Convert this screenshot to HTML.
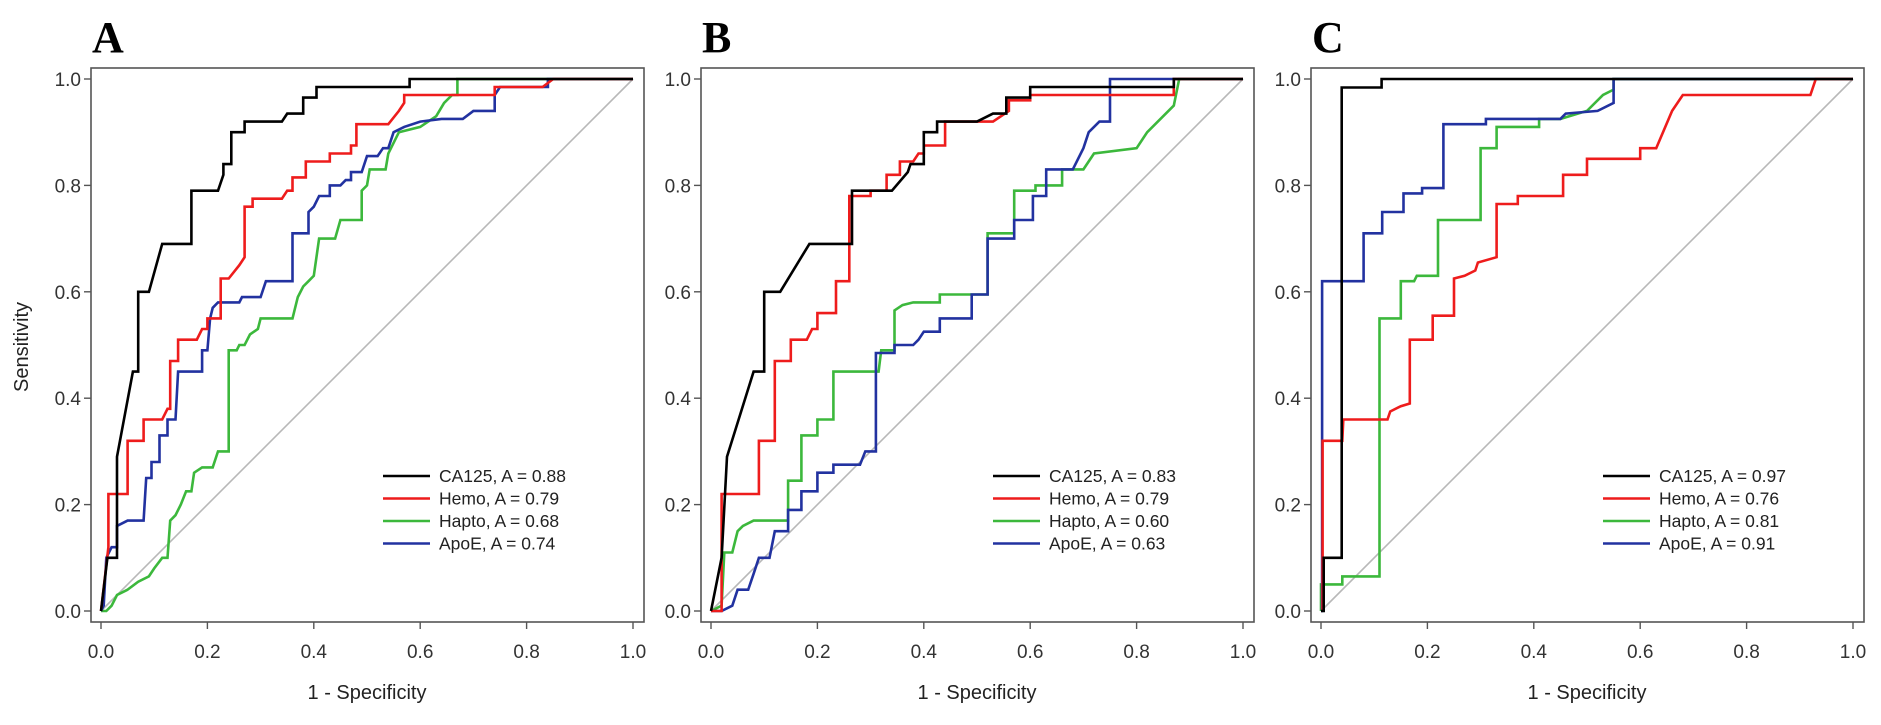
<!DOCTYPE html>
<html><head><meta charset="utf-8">
<style>
html,body{margin:0;padding:0;background:#fff;}
svg{display:block;font-family:"Liberation Sans",Arial,sans-serif;}
</style></head>
<body>
<svg id="chart" width="1881" height="725" viewBox="0 0 1881 725" xmlns="http://www.w3.org/2000/svg"></svg>
<script>
// ---- data ----
const panelLetters = ["A","B","C"];
const tickValues = [0,0.2,0.4,0.6,0.8,1.0];
const tickLabels = ["0.0","0.2","0.4","0.6","0.8","1.0"];
const seriesNames = ["CA125","Hemo","Hapto","ApoE"];
const seriesColors = ["#000000","#ee1c1c","#3cb83c","#2232a0"];
const aucA = ["0.88","0.79","0.68","0.74"];
const aucB = ["0.83","0.79","0.60","0.63"];
const aucC = ["0.97","0.76","0.81","0.91"];

const A_ca125 = [[0,0],[0.012,0.1],[0.03,0.1],[0.03,0.29],[0.06,0.45],[0.07,0.45],[0.07,0.6],[0.09,0.6],[0.115,0.69],[0.17,0.69],[0.17,0.79],[0.22,0.79],[0.23,0.82],[0.23,0.84],[0.245,0.84],[0.245,0.9],[0.27,0.9],[0.27,0.92],[0.34,0.92],[0.35,0.935],[0.38,0.935],[0.38,0.965],[0.405,0.965],[0.405,0.985],[0.58,0.985],[0.58,1],[1,1]];
const A_hemo = [[0,0],[0.014,0.12],[0.014,0.22],[0.05,0.22],[0.05,0.32],[0.08,0.32],[0.08,0.36],[0.115,0.36],[0.125,0.38],[0.13,0.38],[0.13,0.47],[0.145,0.47],[0.145,0.51],[0.18,0.51],[0.19,0.53],[0.2,0.53],[0.2,0.55],[0.225,0.55],[0.225,0.625],[0.24,0.625],[0.26,0.65],[0.27,0.665],[0.27,0.76],[0.285,0.76],[0.285,0.775],[0.34,0.775],[0.35,0.79],[0.36,0.79],[0.36,0.815],[0.385,0.815],[0.385,0.845],[0.43,0.845],[0.43,0.86],[0.47,0.86],[0.47,0.875],[0.48,0.875],[0.48,0.915],[0.54,0.915],[0.56,0.94],[0.57,0.955],[0.57,0.97],[0.74,0.97],[0.74,0.985],[0.83,0.985],[0.85,1],[1,1]];
const A_hapto = [[0,0],[0.01,0],[0.02,0.01],[0.03,0.03],[0.05,0.04],[0.07,0.055],[0.09,0.065],[0.1,0.08],[0.115,0.1],[0.125,0.1],[0.13,0.17],[0.14,0.18],[0.15,0.2],[0.16,0.225],[0.17,0.225],[0.175,0.26],[0.19,0.27],[0.21,0.27],[0.22,0.3],[0.24,0.3],[0.24,0.49],[0.255,0.49],[0.26,0.5],[0.27,0.5],[0.28,0.52],[0.295,0.53],[0.3,0.55],[0.36,0.55],[0.37,0.59],[0.38,0.61],[0.39,0.62],[0.4,0.63],[0.41,0.7],[0.44,0.7],[0.45,0.735],[0.49,0.735],[0.49,0.79],[0.5,0.8],[0.505,0.83],[0.535,0.83],[0.54,0.86],[0.56,0.9],[0.6,0.91],[0.63,0.93],[0.645,0.955],[0.66,0.97],[0.67,0.97],[0.67,1],[1,1]];
const A_apoe = [[0,0],[0.005,0.01],[0.01,0.1],[0.02,0.12],[0.03,0.12],[0.03,0.16],[0.05,0.17],[0.08,0.17],[0.085,0.25],[0.095,0.25],[0.095,0.28],[0.11,0.28],[0.11,0.33],[0.125,0.33],[0.125,0.36],[0.14,0.36],[0.145,0.45],[0.19,0.45],[0.19,0.49],[0.2,0.49],[0.205,0.55],[0.21,0.57],[0.22,0.58],[0.26,0.58],[0.265,0.59],[0.3,0.59],[0.31,0.62],[0.36,0.62],[0.36,0.71],[0.39,0.71],[0.39,0.75],[0.4,0.76],[0.41,0.78],[0.43,0.78],[0.43,0.8],[0.45,0.8],[0.46,0.81],[0.47,0.81],[0.47,0.825],[0.49,0.825],[0.5,0.855],[0.52,0.855],[0.53,0.87],[0.54,0.87],[0.55,0.9],[0.57,0.91],[0.6,0.92],[0.64,0.925],[0.68,0.925],[0.7,0.94],[0.74,0.94],[0.74,0.97],[0.75,0.985],[0.84,0.985],[0.84,1],[1,1]];

const B_ca125 = [[0,0],[0.02,0.1],[0.03,0.29],[0.08,0.45],[0.1,0.45],[0.1,0.6],[0.13,0.6],[0.185,0.69],[0.265,0.69],[0.265,0.79],[0.34,0.79],[0.37,0.825],[0.375,0.84],[0.4,0.84],[0.4,0.9],[0.425,0.9],[0.425,0.92],[0.5,0.92],[0.53,0.935],[0.555,0.935],[0.555,0.965],[0.6,0.965],[0.6,0.985],[0.87,0.985],[0.87,1],[1,1]];
const B_hemo = [[0,0],[0.02,0],[0.02,0.22],[0.09,0.22],[0.09,0.32],[0.12,0.32],[0.12,0.47],[0.15,0.47],[0.15,0.51],[0.18,0.51],[0.19,0.53],[0.2,0.53],[0.2,0.56],[0.235,0.56],[0.235,0.62],[0.26,0.62],[0.26,0.78],[0.3,0.78],[0.3,0.79],[0.33,0.79],[0.33,0.82],[0.355,0.82],[0.355,0.845],[0.38,0.845],[0.39,0.86],[0.4,0.86],[0.4,0.875],[0.44,0.875],[0.44,0.92],[0.53,0.92],[0.56,0.94],[0.56,0.96],[0.6,0.96],[0.6,0.97],[0.87,0.97],[0.87,1],[1,1]];
const B_hapto = [[0,0],[0.02,0.01],[0.025,0.11],[0.04,0.11],[0.05,0.15],[0.06,0.16],[0.08,0.17],[0.145,0.17],[0.145,0.245],[0.17,0.245],[0.17,0.33],[0.2,0.33],[0.2,0.36],[0.23,0.36],[0.23,0.45],[0.315,0.45],[0.32,0.49],[0.345,0.49],[0.345,0.565],[0.36,0.575],[0.38,0.58],[0.43,0.58],[0.43,0.595],[0.52,0.595],[0.52,0.71],[0.57,0.71],[0.57,0.79],[0.61,0.79],[0.61,0.8],[0.66,0.8],[0.66,0.83],[0.7,0.83],[0.72,0.86],[0.8,0.87],[0.82,0.9],[0.85,0.93],[0.87,0.95],[0.88,1],[1,1]];
const B_apoe = [[0,0],[0.02,0],[0.04,0.01],[0.05,0.04],[0.07,0.04],[0.08,0.07],[0.09,0.1],[0.11,0.1],[0.12,0.15],[0.145,0.15],[0.145,0.19],[0.17,0.19],[0.17,0.225],[0.2,0.225],[0.2,0.26],[0.23,0.26],[0.23,0.275],[0.28,0.275],[0.29,0.3],[0.31,0.3],[0.31,0.485],[0.345,0.485],[0.345,0.5],[0.38,0.5],[0.39,0.51],[0.4,0.525],[0.43,0.525],[0.43,0.55],[0.49,0.55],[0.49,0.595],[0.52,0.595],[0.52,0.7],[0.57,0.7],[0.57,0.735],[0.605,0.735],[0.605,0.78],[0.63,0.78],[0.63,0.83],[0.68,0.83],[0.7,0.87],[0.71,0.9],[0.73,0.92],[0.75,0.92],[0.75,1],[1,1]];

const C_ca125 = [[0,0],[0.005,0],[0.005,0.1],[0.039,0.1],[0.039,0.984],[0.114,0.984],[0.114,1],[1,1]];
const C_hemo = [[0.003,0],[0.003,0.32],[0.04,0.32],[0.042,0.36],[0.125,0.36],[0.13,0.375],[0.15,0.385],[0.167,0.39],[0.167,0.51],[0.21,0.51],[0.21,0.555],[0.25,0.555],[0.25,0.625],[0.27,0.63],[0.29,0.64],[0.295,0.655],[0.33,0.665],[0.33,0.765],[0.37,0.765],[0.37,0.78],[0.455,0.78],[0.455,0.82],[0.5,0.82],[0.5,0.85],[0.6,0.85],[0.6,0.87],[0.63,0.87],[0.66,0.94],[0.68,0.97],[0.92,0.97],[0.93,1],[1,1]];
const C_hapto = [[0,0],[0,0.05],[0.04,0.05],[0.04,0.065],[0.11,0.065],[0.11,0.55],[0.15,0.55],[0.15,0.62],[0.175,0.62],[0.18,0.63],[0.22,0.63],[0.22,0.735],[0.3,0.735],[0.3,0.87],[0.33,0.87],[0.33,0.91],[0.41,0.91],[0.41,0.925],[0.45,0.925],[0.5,0.94],[0.53,0.97],[0.55,0.98],[0.55,1],[1,1]];
const C_apoe = [[0,0],[0.002,0],[0.002,0.62],[0.08,0.62],[0.08,0.71],[0.115,0.71],[0.115,0.75],[0.155,0.75],[0.155,0.785],[0.19,0.785],[0.19,0.795],[0.23,0.795],[0.23,0.915],[0.31,0.915],[0.31,0.925],[0.45,0.925],[0.46,0.935],[0.52,0.94],[0.55,0.955],[0.55,1],[1,1]];

const panelsSeries = [[A_ca125,A_hemo,A_hapto,A_apoe],[B_ca125,B_hemo,B_hapto,B_apoe],[C_ca125,C_hemo,C_hapto,C_apoe]];
const panelsAuc = [aucA,aucB,aucC];

// ---- drawing ----
const svg = document.getElementById('chart');
const NS = "http://www.w3.org/2000/svg";
function mk(tag, attrs, parent){const e=document.createElementNS(NS,tag);for(const k in attrs)e.setAttribute(k,attrs[k]);(parent||svg).appendChild(e);return e;}
const X0s=[101,711,1321], SPAN=532, Y0=611;
const names=["a","b","c"];
panelLetters.forEach((L,p)=>{
  const x0=X0s[p];
  const sx=v=>x0+v*SPAN, sy=v=>Y0-v*SPAN;
  const g=mk('g',{});
  
  
  const lt=mk('text',{x:x0-9,y:52,'font-family':'"Liberation Serif",serif','font-weight':'bold','font-size':'44',fill:'#000'},g);
  lt.textContent=L;
  
  
  const box=mk('rect',{x:x0-10,y:Y0-SPAN-11,width:SPAN+21,height:SPAN+22,fill:'none',stroke:'#555','stroke-width':1.6},g);
  
  
  tickValues.forEach((t,i)=>{
    mk('line',{x1:sx(t),x2:sx(t),y1:Y0+11,y2:Y0+18,stroke:'#555','stroke-width':1.4},g);
    const tx=mk('text',{x:sx(t),y:658,'text-anchor':'middle','font-size':'19',fill:'#333'},g);
    tx.textContent=tickLabels[i];
    
    
    mk('line',{x1:x0-10,x2:x0-17,y1:sy(t),y2:sy(t),stroke:'#555','stroke-width':1.4},g);
    const ty=mk('text',{x:x0-20,y:sy(t)+7,'text-anchor':'end','font-size':'19',fill:'#333'},g);
    ty.textContent=tickLabels[i];
    
    
  });
  const xt=mk('text',{x:x0+266,y:699,'text-anchor':'middle','font-size':'20',fill:'#222'},g);
  xt.textContent='1 - Specificity';
  
  
  if(p===0){
    const yt=mk('text',{x:0,y:0,transform:'translate(28,347) rotate(-90)','text-anchor':'middle','font-size':'20',fill:'#222'},g);
    yt.textContent='Sensitivity';
    
    
  }
  const diag=mk('line',{x1:sx(0),y1:sy(0),x2:sx(1),y2:sy(1),stroke:'#b8b8b8','stroke-width':1.6},g);
  
  
  const order=[2,3,1,0];
  order.forEach(s=>{
    const pts=panelsSeries[p][s].map(d=>sx(d[0]).toFixed(1)+','+sy(d[1]).toFixed(1)).join(' ');
    const pl=mk('polyline',{points:pts,fill:'none',stroke:seriesColors[s],'stroke-width':2.6,'stroke-linejoin':'miter'},g);
    
    
  });
  seriesNames.forEach((n,s)=>{
    const y=476+s*22.5;
    const le=mk('g',{},g);
    
    
    mk('line',{x1:x0+282,x2:x0+329,y1:y,y2:y,stroke:seriesColors[s],'stroke-width':2.6},le);
    const t=mk('text',{x:x0+338,y:y+6,'font-size':'17.5',fill:'#222'},le);
    t.textContent=n+', A = '+panelsAuc[p][s];
  });
});
</script>
</body></html>
